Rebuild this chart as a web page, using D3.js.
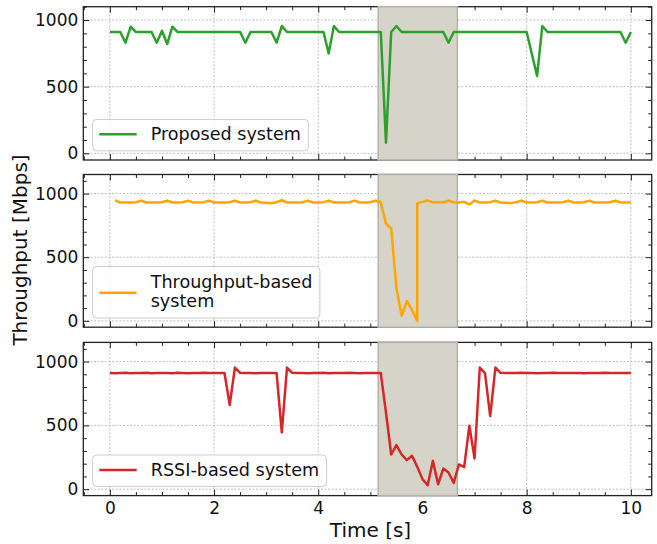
<!DOCTYPE html>
<html><head><meta charset="utf-8">
<script src="https://cdn.jsdelivr.net/npm/d3@7"></script>
<style>
body{margin:0;background:#fff}
svg{display:block}
text{font-family:"DejaVu Sans",sans-serif;fill:#111}
</style>
</head><body>
<svg id="chart" width="657" height="544"></svg>
<script>
// ---------- data ----------
const timeSteps = [0,0.1,0.2,0.3,0.4,0.5,0.6,0.7,0.8,0.9,1,1.1,1.2,1.3,1.4,1.5,1.6,1.7,1.8,1.9,2,2.1,2.2,2.3,2.4,2.5,2.6,2.7,2.8,2.9,3,3.1,3.2,3.3,3.4,3.5,3.6,3.7,3.8,3.9,4,4.1,4.2,4.3,4.4,4.5,4.6,4.7,4.8,4.9,5,5.1,5.2,5.3,5.4,5.5,5.6,5.7,5.8,5.9,6,6.1,6.2,6.3,6.4,6.5,6.6,6.7,6.8,6.9,7,7.1,7.2,7.3,7.4,7.5,7.6,7.7,7.8,7.9,8,8.1,8.2,8.3,8.4,8.5,8.6,8.7,8.8,8.9,9,9.1,9.2,9.3,9.4,9.5,9.6,9.7,9.8,9.9,10];

const proposedValues = [
  910,910,910,830,950,910,910,910,910,830,
  920,820,950,910,910,910,910,910,910,910,
  910,910,910,910,910,910,830,910,910,910,
  910,910,830,955,910,910,910,910,910,910,
  910,910,750,955,910,910,910,910,910,910,
  910,910,910,80,910,955,910,910,910,910,
  910,910,910,910,910,830,910,910,910,910,
  910,910,910,910,910,910,910,910,910,910,
  910,745,580,955,910,910,910,910,910,910,
  910,910,910,910,910,910,910,910,910,830,
  910];

const throughputTimes = [0.1,0.2,0.3,0.4,0.5,0.6,0.7,0.8,0.9,1,1.1,1.2,1.3,1.4,1.5,1.6,1.7,1.8,1.9,2,2.1,2.2,2.3,2.4,2.5,2.6,2.7,2.8,2.9,3,3.1,3.2,3.3,3.4,3.5,3.6,3.7,3.8,3.9,4,4.1,4.2,4.3,4.4,4.5,4.6,4.7,4.8,4.9,5,5.1,5.2,5.3,5.4,5.5,5.6,5.7,5.8,5.9,5.9,6,6.1,6.2,6.3,6.4,6.5,6.6,6.7,6.8,6.9,7,7.1,7.2,7.3,7.4,7.5,7.6,7.7,7.8,7.9,8,8.1,8.2,8.3,8.4,8.5,8.6,8.7,8.8,8.9,9,9.1,9.2,9.3,9.4,9.5,9.6,9.7,9.8,9.9,10];
const throughputValues = [
  947,930,930,930,932,945,930,930,930,
  932,945,930,930,932,945,930,930,932,945,
  930,930,930,932,945,930,930,932,945,930,
  928,925,932,948,930,930,930,932,945,930,
  930,932,945,930,930,930,932,945,930,930,
  932,945,932,763,725,256,40,156,85,0,
  925,
  935,945,932,932,932,945,932,930,935,915,
  945,930,930,932,945,930,928,925,932,945,
  930,930,932,945,930,930,930,932,945,930,
  930,932,945,930,930,930,932,945,930,930,
  930];

const rssiValues = [
  910,908,910,912,908,910,910,912,908,910,
  910,910,908,912,910,908,910,910,912,910,
  910,910,910,660,953,912,910,910,908,910,
  910,910,910,445,953,912,910,910,908,910,
  910,912,908,910,910,910,912,910,908,910,
  910,910,910,600,272,345,272,228,262,175,
  79,31,222,39,162,131,50,194,173,497,
  241,953,909,573,953,912,910,910,910,912,
  910,910,908,910,910,912,910,910,910,910,
  910,908,910,910,910,912,910,910,910,910,
  910];

const seriesNames = ["Proposed system", ["Throughput-based", "system"], "RSSI-based system"];
const seriesColors = ["#2ca02c", "#ffa500", "#d62728"];
const shadeSpan = [5.15, 6.67];
const xMajorTicks = [0, 2, 4, 6, 8, 10];
const yMajorTicks = [0, 500, 1000];
const yMaxes = [1100, 1150, 1150];
const xLabel = "Time [s]";
const yLabel = "Throughput [Mbps]";

// ---------- layout ----------
const svg = d3.select("#chart");
const left = 83.3, right = 651.7;
const panelBounds = [[6.7, 160], [174.5, 327.2], [342.4, 495.6]];
const x = d3.scaleLinear().domain([-0.51, 10.4]).range([left, right]);
const xMinor = d3.range(-0.5, 10.41, 0.5).filter(v => xMajorTicks.indexOf(v) < 0);

const panels = [
  {t: timeSteps, v: proposedValues},
  {t: throughputTimes, v: throughputValues},
  {t: timeSteps, v: rssiValues}
];

panels.forEach((p, i) => {
  const [top, bottom] = panelBounds[i];
  const y = d3.scaleLinear().domain([-50, yMaxes[i]]).range([bottom, top]);
  const yMinor = d3.range(0, yMaxes[i] + 1, 100).filter(v => yMajorTicks.indexOf(v) < 0);
  const g = svg.append("g");

  // grid
  g.selectAll(".gx").data(xMajorTicks).enter().append("line")
    .attr("x1", d => x(d)).attr("x2", d => x(d)).attr("y1", top).attr("y2", bottom)
    .attr("stroke", "#b0b0b0").attr("stroke-width", 0.8).attr("stroke-dasharray", "2,1.6");
  g.selectAll(".gy").data(yMajorTicks).enter().append("line")
    .attr("x1", left).attr("x2", right).attr("y1", d => y(d)).attr("y2", d => y(d))
    .attr("stroke", "#b0b0b0").attr("stroke-width", 0.8).attr("stroke-dasharray", "2,1.6");

  const styleAxis = sel => {
    sel.select(".domain").remove();
    sel.selectAll(".tick line").attr("stroke", "#222").attr("stroke-width", 1);
    sel.selectAll("text").style("font-size", "17px").style("font-family", "DejaVu Sans").attr("fill", "#111");
  };

  // bottom axis
  const bAx = g.append("g").attr("transform", `translate(0,${bottom})`)
    .call(d3.axisBottom(x).tickValues(xMajorTicks).tickSizeInner(-6).tickSizeOuter(0).tickPadding(6.5)
      .tickFormat(i === 2 ? d3.format("d") : ""));
  styleAxis(bAx);
  styleAxis(g.append("g").attr("transform", `translate(0,${bottom})`)
    .call(d3.axisBottom(x).tickValues(xMinor).tickSizeInner(-3.5).tickSizeOuter(0).tickFormat("")));
  // top axis
  styleAxis(g.append("g").attr("transform", `translate(0,${top})`)
    .call(d3.axisTop(x).tickValues(xMajorTicks).tickSizeInner(-6).tickSizeOuter(0).tickFormat("")));
  styleAxis(g.append("g").attr("transform", `translate(0,${top})`)
    .call(d3.axisTop(x).tickValues(xMinor).tickSizeInner(-3.5).tickSizeOuter(0).tickFormat("")));
  // left axis
  styleAxis(g.append("g").attr("transform", `translate(${left},0)`)
    .call(d3.axisLeft(y).tickValues(yMajorTicks).tickSizeInner(-6).tickSizeOuter(0).tickPadding(5).tickFormat(d3.format("d"))));
  styleAxis(g.append("g").attr("transform", `translate(${left},0)`)
    .call(d3.axisLeft(y).tickValues(yMinor).tickSizeInner(-3.5).tickSizeOuter(0).tickFormat("")));
  // right axis
  styleAxis(g.append("g").attr("transform", `translate(${right},0)`)
    .call(d3.axisRight(y).tickValues(yMajorTicks).tickSizeInner(-6).tickSizeOuter(0).tickFormat("")));
  styleAxis(g.append("g").attr("transform", `translate(${right},0)`)
    .call(d3.axisRight(y).tickValues(yMinor).tickSizeInner(-3.5).tickSizeOuter(0).tickFormat("")));

  // frame
  g.append("rect").attr("x", left).attr("y", top).attr("width", right - left).attr("height", bottom - top)
    .attr("fill", "none").attr("stroke", "#222").attr("stroke-width", 1.3);

  // shaded span
  g.append("rect").attr("x", x(shadeSpan[0])).attr("y", top)
    .attr("width", x(shadeSpan[1]) - x(shadeSpan[0])).attr("height", bottom - top)
    .attr("fill", "#d6d4c9").attr("stroke", "#b4b2a8").attr("stroke-width", 1.5);

  // line
  const pts = p.t.map((t, k) => [t, p.v[k]]);
  g.append("path").datum(pts)
    .attr("d", d3.line().x(d => x(d[0])).y(d => y(d[1])))
    .attr("fill", "none").attr("stroke", seriesColors[i]).attr("stroke-width", 2.5)
    .attr("stroke-linejoin", "round").attr("stroke-linecap", "butt");

  // legend
  const labels = Array.isArray(seriesNames[i]) ? seriesNames[i] : [seriesNames[i]];
  const boxH = labels.length === 1 ? 31.4 : 51.6;
  const boxX = left + 9.4, boxY = bottom - 9.2 - boxH;
  const lg = g.append("g");
  const box = lg.append("rect").attr("x", boxX).attr("y", boxY).attr("height", boxH)
    .attr("rx", 4).attr("fill", "#fff").attr("fill-opacity", 0.8)
    .attr("stroke", "#cccccc").attr("stroke-width", 1);
  const handleY = boxY + boxH / 2 + (labels.length === 1 ? -0.8 : 0.5);
  lg.append("line").attr("x1", boxX + 6.6).attr("x2", boxX + 44).attr("y1", handleY).attr("y2", handleY)
    .attr("stroke", seriesColors[i]).attr("stroke-width", 2.5);
  let maxW = 0;
  labels.forEach((lab, k) => {
    const tx = lg.append("text").attr("x", boxX + 58)
      .attr("y", labels.length === 1 ? boxY + 20.7 : boxY + 21.6 + k * 19)
      .style("font-size", "17.6px").text(lab);
    maxW = Math.max(maxW, tx.node().getComputedTextLength());
  });
  box.attr("width", 58 + maxW + 7.5);
});

// axis titles
svg.append("text").attr("x", (left + right) / 2 + 3).attr("y", 537.3).attr("text-anchor", "middle")
  .style("font-size", "20px").text(xLabel);
svg.append("text").attr("transform", "translate(26.7,250) rotate(-90)").attr("text-anchor", "middle")
  .style("font-size", "20px").text(yLabel);
</script>
</body></html>
